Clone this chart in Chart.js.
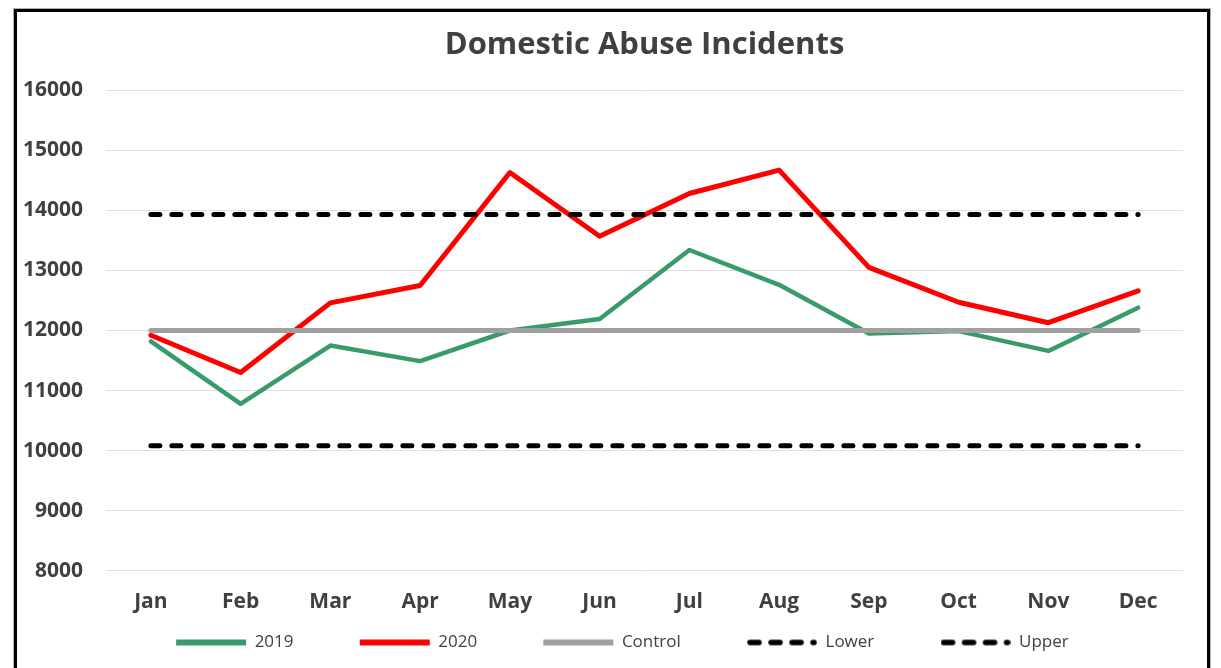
<!DOCTYPE html>
<html>
<head>
<meta charset="utf-8">
<script src="https://cdn.jsdelivr.net/npm/chart.js@4.4.1/dist/chart.umd.min.js"></script>
<style>
  html, body { margin: 0; padding: 0; background: #fff; overflow: hidden; }
  #wrap { position: relative; width: 1221px; height: 668px; }
  #chart { position: absolute; left: 0; top: 0; }
  #frame {
    position: absolute; left: 14px; top: 9px; width: 1190px; height: 720px;
    border: 3px solid #000; box-shadow: 0 0 0 1px #b0b0b0; pointer-events: none;
  }
</style>
</head>
<body>
<div id="wrap">
  <canvas id="chart" width="1221" height="668"></canvas>
  <div id="frame"></div>
</div>
<script>
// categories
const months = ["Jan", "Feb", "Mar", "Apr", "May", "Jun", "Jul", "Aug", "Sep", "Oct", "Nov", "Dec"];

// series values
const incidents2019 = [11820, 10780, 11750, 11490, 12000, 12190, 13340, 12760, 11950, 11990, 11660, 12380];
const incidents2020 = [11920, 11300, 12460, 12750, 14630, 13570, 14280, 14670, 13050, 12470, 12130, 12660];
const control = [12000, 12000, 12000, 12000, 12000, 12000, 12000, 12000, 12000, 12000, 12000, 12000];
const lower = [10080, 10080, 10080, 10080, 10080, 10080, 10080, 10080, 10080, 10080, 10080, 10080];
const upper = [13930, 13930, 13930, 13930, 13930, 13930, 13930, 13930, 13930, 13930, 13930, 13930];

// y axis
const yMin = 8000;
const yMax = 16000;
const yStep = 1000;

const textColor = "#404040";
const dashPattern = [9, 12];
Chart.defaults.font.family = "'Open Sans', Lato, sans-serif";
Chart.defaults.color = textColor;

// legend sample for the dashed series (point style "line" ignores the dash)
function dashedSample(color) {
  const c = document.createElement("canvas");
  c.width = 70;
  c.height = 8;
  const g = c.getContext("2d");
  g.strokeStyle = color;
  g.lineWidth = 5.5;
  g.lineCap = "round";
  g.setLineDash(dashPattern);
  g.beginPath();
  g.moveTo(3, 4);
  g.lineTo(67, 4);
  g.stroke();
  return c;
}

const ctx = document.getElementById("chart").getContext("2d");

new Chart(ctx, {
  type: "line",
  data: {
    labels: months,
    datasets: [
      { label: "2019", data: incidents2019, borderColor: "#389B69", borderWidth: 4.5, order: 5 },
      { label: "2020", data: incidents2020, borderColor: "#FF0000", borderWidth: 5, order: 4 },
      { label: "Control", data: control, borderColor: "#A0A0A0", borderWidth: 5, order: 3 },
      { label: "Lower", data: lower, borderColor: "#000000", borderWidth: 5, borderDash: dashPattern, order: 2 },
      { label: "Upper", data: upper, borderColor: "#000000", borderWidth: 5, borderDash: dashPattern, order: 1 }
    ]
  },
  options: {
    responsive: false,
    animation: false,
    datasets: {
      line: {
        tension: 0,
        fill: false,
        pointRadius: 0,
        pointHoverRadius: 0,
        pointBorderWidth: 6,
        borderCapStyle: "round",
        borderJoinStyle: "round"
      }
    },
    layout: { padding: { left: 23, right: 38, top: 10, bottom: 7 } },
    plugins: {
      title: {
        display: true,
        text: "Domestic Abuse Incidents",
        fullSize: false,
        color: textColor,
        font: { size: 31, weight: "bold" },
        padding: { top: 17, bottom: 26 }
      },
      legend: {
        position: "bottom",
        fullSize: false,
        labels: {
          usePointStyle: true,
          pointStyle: "line",
          pointStyleWidth: 70,
          padding: 0,
          color: textColor,
          font: { size: 17 },
          sort: (a, b) => a.datasetIndex - b.datasetIndex,
          generateLabels: (chart) => {
            const items = Chart.defaults.plugins.legend.labels.generateLabels(chart);
            const sets = chart.data.datasets;
            items.forEach((item) => {
              const ds = sets[item.datasetIndex];
              // gap between entries kept as trailing spaces so the row height stays small
              const isLast = item.datasetIndex === sets.length - 1;
              item.text = item.text + " ".repeat(isLast ? 10 : 15);
              if (ds.borderDash) item.pointStyle = dashedSample(ds.borderColor);
            });
            return items;
          }
        }
      },
      tooltip: { enabled: false }
    },
    scales: {
      x: {
        offset: true,
        grid: { display: false, drawTicks: false },
        border: { display: false },
        ticks: { padding: 19, font: { size: 21, weight: "bold" }, color: textColor }
      },
      y: {
        min: yMin,
        max: yMax,
        afterFit: (axis) => { axis.width = 83; },
        ticks: {
          stepSize: yStep,
          padding: 23,
          font: { size: 21, weight: "bold" },
          color: textColor,
          callback: (v) => String(v)
        },
        grid: { color: "#E0E0E0", lineWidth: 1, drawTicks: false },
        border: { display: false }
      }
    }
  }
});
</script>
</body>
</html>
